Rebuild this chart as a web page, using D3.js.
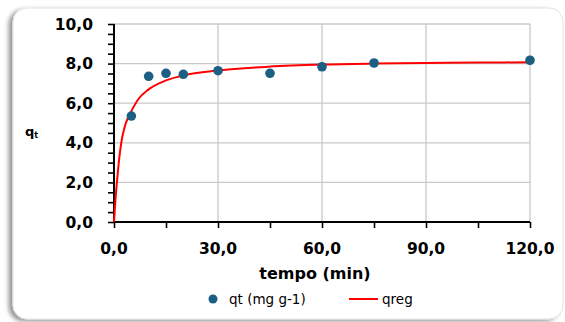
<!DOCTYPE html>
<html>
<head>
<meta charset="utf-8">
<script src="https://cdn.jsdelivr.net/npm/d3@7"></script>
<style>
  body { margin: 0; background: #ffffff; }
</style>
</head>
<body>
<div class="center"></div>
<script>
// measured points
const tempo = [5, 10, 15, 20, 30, 45, 60, 75, 120];
const qt = [5.35, 7.36, 7.51, 7.46, 7.64, 7.51, 7.84, 8.03, 8.17];

// regression curve
const regT = [0, 0.25, 0.5, 1, 1.5, 2, 3, 4, 5, 7, 10, 15, 20, 30, 45, 60, 75, 90, 105, 120];
const regQ = [0, 0.7, 1.3, 2.3, 3.2, 3.9, 4.75, 5.25, 5.6, 6.2, 6.7, 7.15, 7.4, 7.65, 7.85, 7.95, 8.0, 8.03, 8.05, 8.07];

const xTicks = [0, 30, 60, 90, 120];
const yTicks = [0, 2, 4, 6, 8, 10];

const W = 565, H = 322;
const margin = {top: 24, right: 35, bottom: 100, left: 114};
const width = 530 - margin.left;
const height = 222 - margin.top;

const fmt = d => d3.format(".1f")(d).replace(".", ",");
const boldFont = "DejaVu Sans, Verdana, sans-serif";

const svg = d3.select(".center").append("svg")
  .attr("width", W)
  .attr("height", H);

// card with shadow
const defs = svg.append("defs");
const f = defs.append("filter").attr("id", "shadow")
  .attr("x", "-5%").attr("y", "-5%").attr("width", "110%").attr("height", "115%");
f.append("feDropShadow").attr("dx", -4).attr("dy", 2).attr("stdDeviation", 2.2)
  .attr("flood-color", "#000").attr("flood-opacity", 0.4);

svg.append("rect")
  .attr("x", 13).attr("y", 8)
  .attr("width", 550).attr("height", 311)
  .attr("rx", 14)
  .attr("fill", "#fff")
  .attr("stroke", "#e2e2e2")
  .attr("filter", "url(#shadow)");

const g = svg.append("g").attr("transform", `translate(${margin.left},${margin.top})`);

const x = d3.scaleLinear().domain([0, 120]).range([0, width]);
const y = d3.scaleLinear().domain([0, 10]).range([height, 0]);

// grid
g.append("g").selectAll("line").data(yTicks.filter(d => d > 0)).enter().append("line")
  .attr("x1", 0).attr("x2", width)
  .attr("y1", d => y(d)).attr("y2", d => y(d))
  .attr("stroke", "#c8c8c8").attr("stroke-width", 1.3);
g.append("g").selectAll("line").data(xTicks.filter(d => d > 0)).enter().append("line")
  .attr("x1", d => x(d)).attr("x2", d => x(d))
  .attr("y1", 0).attr("y2", height)
  .attr("stroke", "#c8c8c8").attr("stroke-width", 1.3);

// axes
const yAxis = d3.axisLeft(y).tickValues(d3.range(0, 10.01, 0.5)).tickSize(6).tickFormat("");
const ya = g.append("g").call(yAxis);
const xAxis = d3.axisBottom(x).tickValues(d3.range(0, 120.01, 15)).tickSize(6).tickFormat("");
const xa = g.append("g").attr("transform", `translate(0,${height})`).call(xAxis);
[ya, xa].forEach(a => {
  a.selectAll("path").attr("stroke", "#000").attr("stroke-width", 2);
  a.selectAll(".tick line").attr("stroke", "#000").attr("stroke-width", 1.6);
});
ya.select("path").attr("d", `M0,${height + 1}V0`);
xa.select("path").attr("d", `M-1,0H${width}`);

// tick labels
g.append("g").selectAll("text").data(yTicks).enter().append("text")
  .attr("x", -21).attr("y", d => y(d) + 5.5)
  .attr("text-anchor", "end")
  .style("font-family", boldFont)
  .style("font-size", "15.5px").style("font-weight", "700")
  .text(fmt);
g.append("g").selectAll("text").data(xTicks).enter().append("text")
  .attr("x", d => x(d)).attr("y", height + 32)
  .attr("text-anchor", "middle")
  .style("font-family", boldFont)
  .style("font-size", "15.5px").style("font-weight", "700")
  .text(fmt);

// axis titles
g.append("text")
  .attr("x", width / 2 - 7).attr("y", height + 57)
  .attr("text-anchor", "middle")
  .style("font-family", boldFont)
  .style("font-size", "16px").style("font-weight", "700")
  .text("tempo (min)");

const yl = svg.append("text")
  .attr("x", 25).attr("y", 136)
  .style("font-family", boldFont)
  .style("font-size", "13px").style("font-weight", "700");
yl.append("tspan").text("q");
yl.append("tspan").attr("dy", 2).style("font-size", "8px").text("t");

// regression line
const reg = regT.map((t, i) => ({t: t, q: regQ[i]}));
const line = d3.line().x(d => x(d.t)).y(d => y(d.q)).curve(d3.curveMonotoneX);
g.append("path").datum(reg)
  .attr("d", line)
  .attr("fill", "none")
  .attr("stroke", "#ff0000")
  .attr("stroke-width", 2);

// points
g.selectAll("circle.pt").data(tempo).enter().append("circle")
  .attr("class", "pt")
  .attr("cx", d => x(d))
  .attr("cy", (d, i) => y(qt[i]))
  .attr("r", 4.8)
  .attr("fill", "#1c5f82");

// legend
const leg = svg.append("g");
leg.append("circle").attr("cx", 213).attr("cy", 299).attr("r", 4.5).attr("fill", "#1c5f82");
leg.append("text").attr("x", 229).attr("y", 304)
  .style("font-family", "DejaVu Sans, sans-serif")
  .style("font-size", "13.5px").text("qt (mg g-1)");
leg.append("line").attr("x1", 349).attr("x2", 378).attr("y1", 299).attr("y2", 299)
  .attr("stroke", "#ff0000").attr("stroke-width", 2);
leg.append("text").attr("x", 382).attr("y", 304)
  .style("font-family", "DejaVu Sans, sans-serif")
  .style("font-size", "13.5px").text("qreg");
</script>
</body>
</html>
